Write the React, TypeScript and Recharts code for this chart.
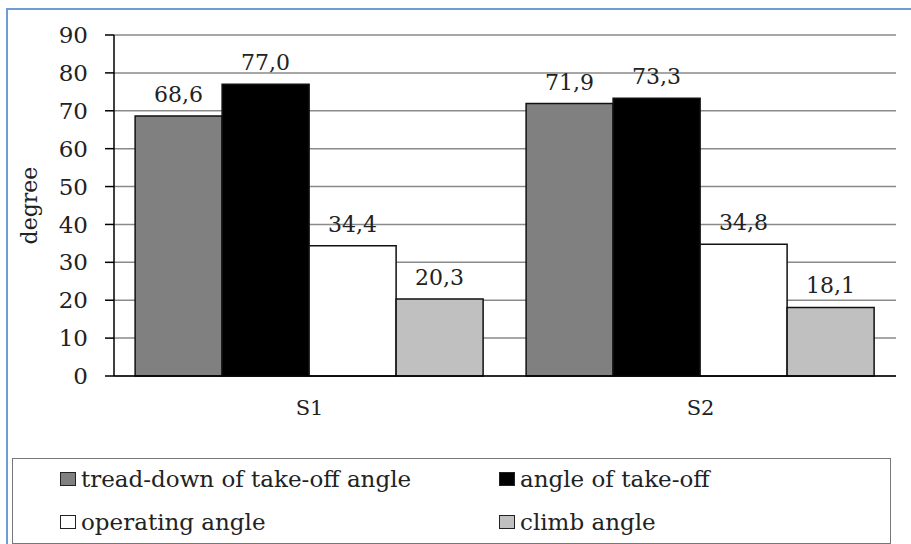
import React from 'react';
import { BarChart, Bar, XAxis, YAxis, CartesianGrid, Legend, LabelList } from 'recharts';

const categories = ['S1', 'S2'];
const treadDown = [68.6, 71.9];
const takeOff = [77.0, 73.3];
const operating = [34.4, 34.8];
const climb = [20.3, 18.1];
const yTicks = [0, 10, 20, 30, 40, 50, 60, 70, 80, 90];

const series = [
  { key: 'treadDown', name: 'tread-down of take-off angle', color: '#808080', values: treadDown },
  { key: 'takeOff', name: 'angle of take-off', color: '#000000', values: takeOff },
  { key: 'operating', name: 'operating angle', color: '#ffffff', values: operating },
  { key: 'climb', name: 'climb angle', color: '#c0c0c0', values: climb },
];

const data = categories.map((c, i) => {
  const row: any = { name: c };
  series.forEach((s) => (row[s.key] = s.values[i]));
  return row;
});

const FONT = "'DejaVu Serif', 'Liberation Serif', serif";
const fmt = (v: any) => Number(v).toFixed(1).replace('.', ',');

const LegendBox = () => (
  <div
    style={{
      width: 877,
      height: 84,
      border: '1.5px solid #777',
      background: '#fff',
      fontFamily: FONT,
      fontSize: 23,
      color: '#222',
      position: 'relative',
      boxSizing: 'content-box',
    }}
  >
    {series.map((s, i) => (
      <div
        key={s.key}
        style={{
          position: 'absolute',
          left: i % 2 === 0 ? 47 : 486,
          top: i < 2 ? 7 : 50,
          display: 'flex',
          alignItems: 'center',
          whiteSpace: 'nowrap',
          fontFamily: FONT,
        }}
      >
        <span
          style={{
            display: 'inline-block',
            width: 14,
            height: 12,
            background: s.color,
            border: '1.5px solid #222',
            marginRight: 5,
          }}
        />
        <span style={{ fontFamily: FONT }}>{s.name}</span>
      </div>
    ))}
  </div>
);

const Nothing = () => <g />;

export default function App() {
  return (
    <div
      style={{
        position: 'fixed',
        left: 0,
        top: 0,
        width: 911,
        height: 544,
        overflow: 'hidden',
        background: '#fff',
        fontFamily: FONT,
      }}
    >
      <div
        style={{
          position: 'absolute',
          left: 6,
          top: 8,
          width: 1000,
          height: 1000,
          borderLeft: '2px solid #6f9bd6',
          borderTop: '2px solid #6f9bd6',
        }}
      />
      <div style={{ position: 'absolute', left: 0, top: 0 }}>
        <BarChart
          width={911}
          height={544}
          data={data}
          margin={{ top: 35, right: 15, left: 0, bottom: 138 }}
          barCategoryGap="5.4%"
          barGap={0}
        >
          <CartesianGrid vertical={false} stroke="#8a8a8a" strokeWidth={1.5} />
          <XAxis
            dataKey="name"
            height={30}
            tickLine={false}
            axisLine={{ stroke: '#000', strokeWidth: 1.5 }}
            tickMargin={18}
            tick={{ fill: '#222', fontFamily: FONT, fontSize: 21 }}
          />
          <XAxis
            xAxisId="grid"
            type="number"
            domain={[0, 2]}
            ticks={[0, 1, 2]}
            height={0}
            axisLine={false}
            tickSize={7}
            tickLine={{ stroke: '#000', strokeWidth: 1.5 }}
            tick={<Nothing />}
          />
          <YAxis
            width={114}
            domain={[0, 90]}
            ticks={yTicks}
            interval={0}
            tickSize={9}
            tickMargin={17}
            axisLine={{ stroke: '#000', strokeWidth: 1.5 }}
            tickLine={{ stroke: '#000', strokeWidth: 1.5 }}
            tick={{ fill: '#222', fontFamily: FONT, fontSize: 23 }}
            label={{
              value: 'degree',
              angle: -90,
              position: 'insideLeft',
              offset: 29,
              style: { fill: '#222', fontFamily: FONT, fontSize: 22, textAnchor: 'middle' },
            }}
          />
          <YAxis
            yAxisId="border"
            orientation="right"
            width={0}
            domain={[0, 90]}
            tick={false}
            tickLine={false}
            axisLine={{ stroke: '#8a8a8a', strokeWidth: 1.5 }}
          />
          {series.map((s) => (
            <Bar
              key={s.key}
              dataKey={s.key}
              name={s.name}
              fill={s.color}
              stroke="#111"
              strokeWidth={1.5}
              isAnimationActive={false}
            >
              <LabelList
                dataKey={s.key}
                position="top"
                offset={14}
                formatter={fmt}
                style={{ fill: '#222', fontFamily: FONT, fontSize: 22 }}
              />
            </Bar>
          ))}
          <Legend
            layout="horizontal"
            verticalAlign="middle"
            align="center"
            content={<LegendBox />}
            wrapperStyle={{ position: 'absolute', left: 12, top: 458, width: 880, height: 90 }}
          />
        </BarChart>
      </div>
    </div>
  );
}
